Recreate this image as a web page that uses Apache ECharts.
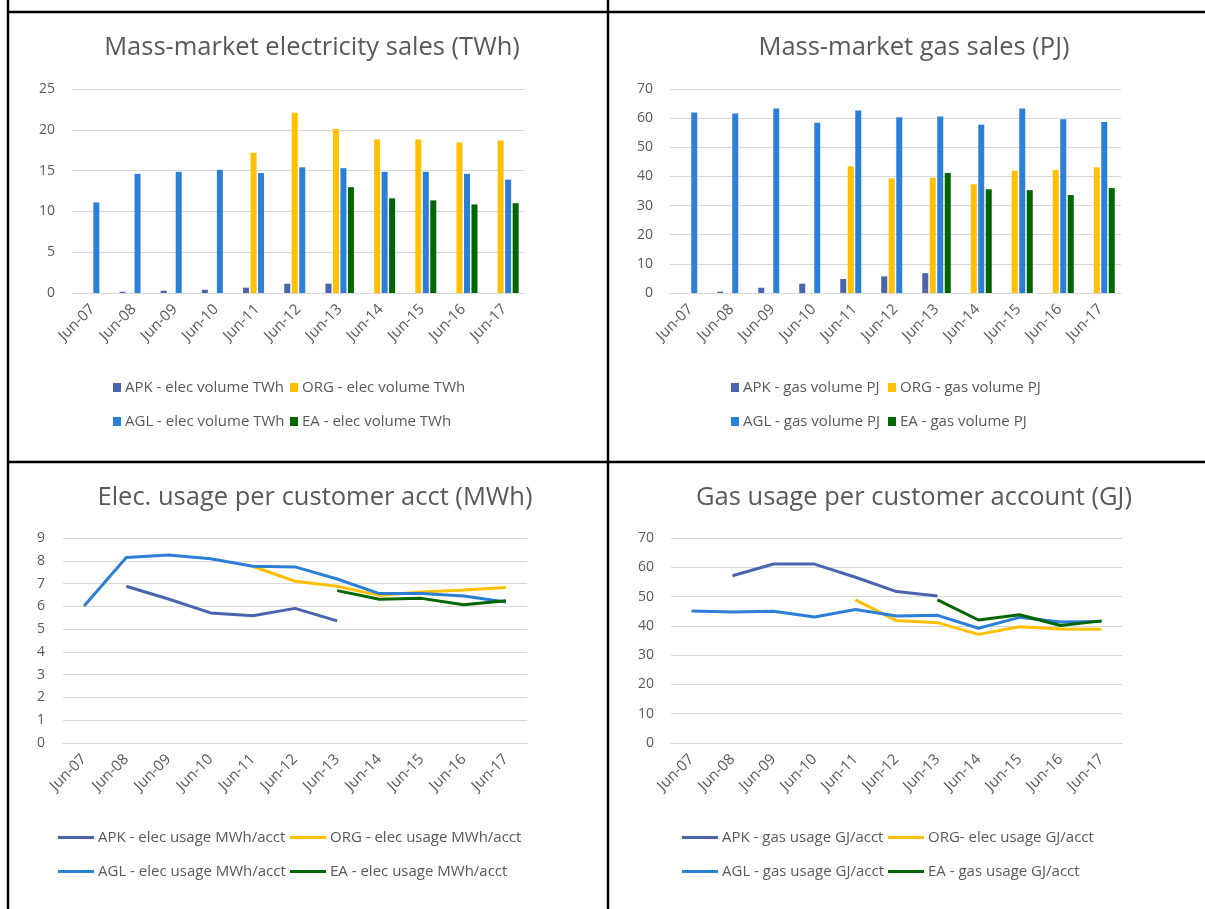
<!DOCTYPE html>
<html>
<head>
<meta charset="utf-8">
<script src="https://cdn.jsdelivr.net/npm/echarts@6/dist/echarts.min.js"></script>
<style>
html,body{margin:0;padding:0;background:#fff;}
#c{width:1205px;height:909px;}
</style>
</head>
<body>
<div id="c"></div>
<script>
const categories = ['Jun-07','Jun-08','Jun-09','Jun-10','Jun-11','Jun-12','Jun-13','Jun-14','Jun-15','Jun-16','Jun-17'];

const elecAPK = [null, 0.15, 0.28, 0.4, 0.65, 1.14, 1.14, null, null, null, null];
const elecORG = [null, null, null, null, 17.2, 22.1, 20.1, 18.8, 18.8, 18.45, 18.7];
const elecAGL = [11.1, 14.6, 14.85, 15.1, 14.7, 15.4, 15.3, 14.85, 14.85, 14.6, 13.9];
const elecEA  = [null, null, null, null, null, null, 12.97, 11.6, 11.35, 10.85, 11.0];

const gasAPK = [null, 0.45, 1.8, 3.2, 4.8, 5.7, 6.8, null, null, null, null];
const gasORG = [null, null, null, null, 43.5, 39.3, 39.6, 37.3, 41.9, 42.2, 43.1];
const gasAGL = [61.9, 61.6, 63.3, 58.4, 62.6, 60.3, 60.6, 57.7, 63.3, 59.6, 58.7];
const gasEA  = [null, null, null, null, null, null, 41.2, 35.6, 35.3, 33.6, 36.0];

const elecUseAPK = [null, 6.88, 6.32, 5.71, 5.59, 5.91, 5.36, null, null, null, null];
const elecUseORG = [null, null, null, null, 7.76, 7.1, 6.88, 6.48, 6.63, 6.72, 6.83];
const elecUseAGL = [6.01, 8.14, 8.25, 8.09, 7.76, 7.73, 7.2, 6.56, 6.56, 6.45, 6.19];
const elecUseEA  = [null, null, null, null, null, null, 6.69, 6.31, 6.35, 6.07, 6.25];

const gasUseAPK = [null, 57.1, 61.1, 61.1, 56.6, 51.7, 50.2, null, null, null, null];
const gasUseORG = [null, null, null, null, 48.9, 41.8, 41.1, 37.1, 39.7, 38.9, 38.8];
const gasUseAGL = [45.1, 44.7, 45.0, 43.0, 45.6, 43.4, 43.6, 39.2, 42.9, 41.3, 41.5];
const gasUseEA  = [null, null, null, null, null, null, 48.9, 42.0, 43.8, 40.1, 41.7];

const titles = ['Mass-market electricity sales (TWh)', 'Mass-market gas sales (PJ)',
                'Elec. usage per customer acct (MWh)', 'Gas usage per customer account (GJ)'];
const names1 = ['APK - elec volume TWh','ORG - elec volume TWh','AGL - elec volume TWh','EA - elec volume TWh'];
const names2 = ['APK - gas volume PJ','ORG - gas volume PJ','AGL - gas volume PJ','EA - gas volume PJ'];
const names3 = ['APK - elec usage MWh/acct','ORG - elec usage MWh/acct','AGL - elec usage MWh/acct','EA - elec usage MWh/acct'];
const names4 = ['APK - gas usage GJ/acct','ORG- elec usage GJ/acct','AGL - gas usage GJ/acct','EA - gas usage GJ/acct'];
const yMax = [25, 70, 9, 70];
const yInt = [5, 10, 1, 10];

const COLORS = ['#4a65ae', '#ffc000', '#2b7fd6', '#006600'];
const FONT = 'Open Sans';
const GREY = '#595959';

const chart = echarts.init(document.getElementById('c'), null, {renderer: 'canvas'});

const grids = [
  {left: 72, top: 89, width: 453, height: 204},
  {left: 670, top: 89, width: 451, height: 204},
  {left: 63, top: 538, width: 464, height: 205},
  {left: 671, top: 538, width: 451, height: 205}
];
const titlePos = [[312, 35], [914, 35], [315, 485], [914, 485]];

function mkX(i) {
  return {
    type: 'category', gridIndex: i, data: categories, boundaryGap: true,
    axisTick: {show: false},
    axisLine: {lineStyle: {color: '#d9d9d9', width: 1}},
    axisLabel: {rotate: 45, interval: 0, color: GREY, fontFamily: FONT, fontSize: 15, margin: 14}
  };
}
function mkY(i, margin) {
  return {
    type: 'value', gridIndex: i, min: 0, max: yMax[i], interval: yInt[i],
    axisLine: {show: false}, axisTick: {show: false},
    splitLine: {lineStyle: {color: '#d9d9d9', width: 1}},
    axisLabel: {color: GREY, fontFamily: FONT, fontSize: 14, margin: margin}
  };
}
function bar(name, data, i, c) {
  return {type: 'bar', name: name, data: data, xAxisIndex: i, yAxisIndex: i,
    barWidth: 6, barGap: '25%', itemStyle: {color: COLORS[c]}};
}
function line(name, data, i, c) {
  return {type: 'line', name: name, data: data, xAxisIndex: i, yAxisIndex: i,
    showSymbol: false, symbol: 'none', connectNulls: false,
    lineStyle: {color: COLORS[c], width: 3}, itemStyle: {color: COLORS[c]}};
}
function leg(name, left, cy, isLine) {
  return {
    data: [name], left: left, top: cy - 6, padding: 0, selectedMode: false,
    icon: 'rect', itemWidth: isLine ? 36 : 8, itemHeight: isLine ? 3 : 9, itemGap: 0,
    textStyle: {color: GREY, fontFamily: FONT, fontSize: 15, padding: [0, 0, 0, -1]}
  };
}

const legends = [];
const legendSpec = [
  [names1, 113, 290, 386, 420, false],
  [names2, 731, 888, 386, 420, false],
  [names3, 58, 290, 836, 870, true],
  [names4, 682, 888, 836, 870, true]
];
legendSpec.forEach(s => {
  legends.push(leg(s[0][0], s[1], s[3], s[5]));
  legends.push(leg(s[0][1], s[2], s[3], s[5]));
  legends.push(leg(s[0][2], s[1], s[4], s[5]));
  legends.push(leg(s[0][3], s[2], s[4], s[5]));
});

const series = [
  bar(names1[0], elecAPK, 0, 0), bar(names1[1], elecORG, 0, 1), bar(names1[2], elecAGL, 0, 2), bar(names1[3], elecEA, 0, 3),
  bar(names2[0], gasAPK, 1, 0), bar(names2[1], gasORG, 1, 1), bar(names2[2], gasAGL, 1, 2), bar(names2[3], gasEA, 1, 3),
  line(names3[0], elecUseAPK, 2, 0), line(names3[1], elecUseORG, 2, 1), line(names3[2], elecUseAGL, 2, 2), line(names3[3], elecUseEA, 2, 3),
  line(names4[0], gasUseAPK, 3, 0), line(names4[1], gasUseORG, 3, 1), line(names4[2], gasUseAGL, 3, 2), line(names4[3], gasUseEA, 3, 3)
];

const borderStyle = {stroke: '#000', lineWidth: 2.5};
chart.setOption({
  animation: false,
  backgroundColor: '#ffffff',
  title: titles.map((t, i) => ({
    text: t, left: titlePos[i][0], top: titlePos[i][1], textAlign: 'center', padding: 0,
    textStyle: {color: GREY, fontFamily: FONT, fontSize: 25.5, fontWeight: 'normal'}
  })),
  grid: grids,
  xAxis: [0,1,2,3].map(mkX),
  yAxis: [mkY(0, 17), mkY(1, 17), mkY(2, 18), mkY(3, 17)],
  legend: legends,
  series: series,
  graphic: [
    {type: 'line', shape: {x1: 8, y1: 0, x2: 8, y2: 909}, style: borderStyle},
    {type: 'line', shape: {x1: 608, y1: 0, x2: 608, y2: 909}, style: borderStyle},
    {type: 'line', shape: {x1: 8, y1: 12, x2: 1205, y2: 12}, style: borderStyle},
    {type: 'line', shape: {x1: 8, y1: 462, x2: 1205, y2: 462}, style: borderStyle}
  ]
});
</script>
</body>
</html>
